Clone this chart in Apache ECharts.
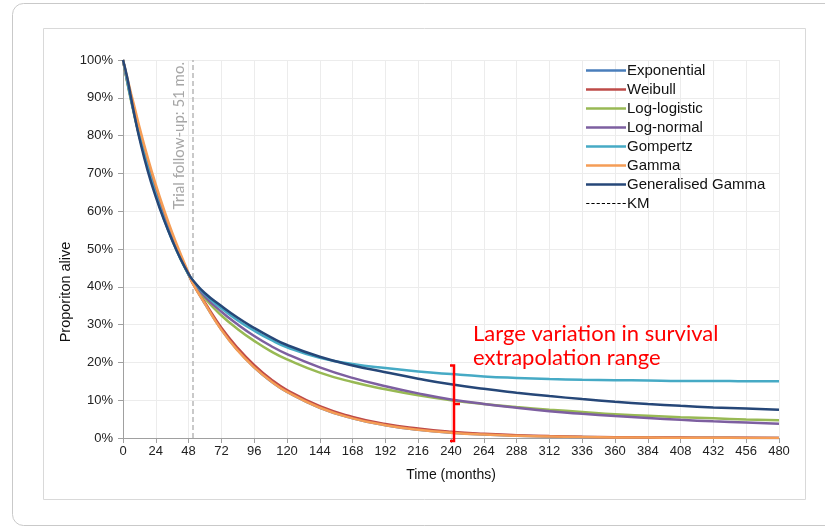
<!DOCTYPE html>
<html>
<head>
<meta charset="utf-8">
<script src="https://cdn.jsdelivr.net/npm/echarts@6/dist/echarts.min.js"></script>
<style>html,body{margin:0;padding:0;background:#fff}#c{width:825px;height:529px}</style>
</head>
<body>
<div id="c"></div>
<script>
// Time points (months)
const months = [0,3,6,9,12,18,24,30,36,42,48,51,60,72,84,96,108,120,144,168,192,216,240,264,288,312,336,360,384,408,432,456,480];
// Survival (%) per model
const exponential = [100,95,90,85.5,81,73,65.7,59.2,53.3,48,43.2,41,35.5,28.7,23.2,18.7,15.1,12.2,8.0,5.2,3.4,2.2,1.4,0.95,0.6,0.4,0.26,0.17,0.11,0.07,0.05,0.03,0.02];
const weibull = [100,94.5,89.5,85,80.7,72.8,65.7,59.3,53.5,48.2,43.4,41.0,35.8,29.2,23.8,19.3,15.6,12.7,8.4,5.6,3.7,2.5,1.65,1.1,0.75,0.5,0.34,0.23,0.16,0.11,0.07,0.05,0.03];
const logLogistic = [100,94.3,89,84.2,79.8,71.8,64.6,58.2,52.5,47.5,43.2,41.3,36.9,32.4,28.8,25.7,23.0,20.8,17.3,14.8,12.9,11.3,10.0,9.0,8.2,7.5,6.9,6.3,5.9,5.5,5.2,4.9,4.7];
const logNormal = [100,94.8,89.5,84.5,79.9,71.8,64.6,58.3,52.7,47.7,43.4,41.5,37.4,33.4,30.0,27.0,24.4,22.2,18.7,15.9,13.7,11.8,10.2,9.0,8.0,7.1,6.4,5.8,5.3,4.8,4.4,4.1,3.8];
const gompertz = [100,94.6,89.4,84.5,79.9,71.6,64.3,57.9,52.3,47.4,43.3,41.7,38.0,34.3,31.1,28.4,26.0,24.0,21.2,19.6,18.5,17.6,16.9,16.3,15.9,15.6,15.4,15.3,15.2,15.1,15.1,15.0,15.0];
const gamma = [100,95.5,91,86.7,82.3,74.3,67,60.4,54.3,48.8,43.6,40.9,35.5,28.6,23.1,18.7,15.1,12.2,8.0,5.2,3.4,2.2,1.4,0.9,0.6,0.4,0.25,0.16,0.1,0.07,0.04,0.03,0.02];
const genGamma = [100,95.5,89.8,84.3,79.3,70.8,63.8,57.7,52.3,47.5,43.4,41.8,38.3,34.9,31.8,29.1,26.7,24.6,21.5,19.2,17.4,15.7,14.2,13.0,12.0,11.1,10.3,9.6,9.0,8.5,8.1,7.8,7.5];
const km = []; // KM appears in the legend only
const seriesNames = ['Exponential','Weibull','Log-logistic','Log-normal','Gompertz','Gamma','Generalised Gamma','KM'];
const seriesData = [exponential, weibull, logLogistic, logNormal, gompertz, gamma, genGamma, km];
const seriesColors = ['#4a7ebb','#be4b48','#98b954','#7d5fa0','#46aac5','#f59d56','#264778','#000000'];
const followUp = 51;
const xTicks = {min:0, max:480, interval:24};
const yTicks = {min:0, max:100, interval:10};

const chart = echarts.init(document.getElementById('c'));
const series = seriesNames.map((name, i) => ({
  name: name,
  type: 'line',
  data: seriesData[i].map((v, j) => [months[j], v]),
  smooth: 0.5,
  symbol: 'none',
  color: seriesColors[i],
  lineStyle: {width: i === 7 ? 1.2 : 2.5, color: seriesColors[i], type: i === 7 ? [3, 2] : 'solid'},
  z: 3 + i,
  animation: false
}));
series.push({
  type: 'line', data: [], silent: true, animation: false,
  markLine: {
    symbol: 'none', silent: true, animation: false,
    lineStyle: {color: '#b8b8b8', type: [5, 3], width: 1.5},
    label: {show: false},
    data: [{xAxis: followUp}]
  },
  z: 2
});

const dashPath = 'path://M0,0M0,2.5M0,0.75h3.2v1h-3.2zM5.2,0.75h3.2v1h-3.2zM10.4,0.75h3.2v1h-3.2zM15.6,0.75h3.2v1h-3.2zM20.8,0.75h3.2v1h-3.2zM26,0.75h3.2v1h-3.2zM31.2,0.75h3.2v1h-3.2zM36.4,0.75h3.2v1h-3.2z';
const legendData = seriesNames.map((n, i) => ({name: n, icon: i === 7 ? dashPath : 'rect'}));

chart.setOption({
  animation: false,
  grid: {left: 123, right: 46, top: 60, bottom: 91},
  legend: {
    orient: 'vertical', left: 581, top: 56,
    itemWidth: 40, itemHeight: 2.5, itemGap: 0,
    textStyle: {fontFamily: 'Liberation Sans, Arial', fontSize: 15, color: '#111', padding: [0,0,0,-4], lineHeight: 19},
    data: legendData
  },
  xAxis: {
    type: 'value', min: xTicks.min, max: xTicks.max, interval: xTicks.interval,
    name: 'Time (months)', nameLocation: 'middle', nameGap: 30,
    nameTextStyle: {fontFamily: 'Liberation Sans, Arial', fontSize: 14, color: '#111'},
    axisLine: {lineStyle: {color: '#a0a0a0', width: 1}},
    axisTick: {show: true, length: 5, lineStyle: {color: '#a0a0a0'}},
    axisLabel: {fontFamily: 'Liberation Sans, Arial', fontSize: 13, color: '#222', margin: 7},
    splitLine: {show: true, lineStyle: {color: '#ececec', width: 1}}
  },
  yAxis: {
    type: 'value', min: yTicks.min, max: yTicks.max, interval: yTicks.interval,
    axisLine: {show: true, lineStyle: {color: '#a0a0a0', width: 1}},
    axisTick: {show: true, length: 5, lineStyle: {color: '#a0a0a0'}},
    axisLabel: {fontFamily: 'Liberation Sans, Arial', fontSize: 13, color: '#222', margin: 10, formatter: '{value}%'},
    splitLine: {show: true, lineStyle: {color: '#ececec', width: 1}}
  },
  series: series
});

// Annotations positioned through the chart's scales
const p = (x, y) => chart.convertToPixel({gridIndex: 0}, [x, y]);
const lineTop = p(followUp, 100);
const brTop = p(240, 19.2);
const brBot = p(240, -0.8);
const brMid = p(240, 9.0);
const bx = brTop[0] + 3;
chart.setOption({
  graphic: [
    {type: 'rect', shape: {x: 12.5, y: 3.5, width: 830, height: 522, r: 11}, style: {fill: 'none', stroke: '#c9c9c9', lineWidth: 1}, silent: true, z: -10},
    {type: 'rect', shape: {x: 43.5, y: 28.5, width: 762, height: 471}, style: {fill: 'none', stroke: '#d9d9d9', lineWidth: 1}, silent: true, z: -10},
    {type: 'text', x: 66, y: 292, rotation: Math.PI / 2, style: {text: 'Proporiton alive', fontFamily: 'Liberation Sans, Arial', fontSize: 14.5, fill: '#111', align: 'center', verticalAlign: 'middle'}},
    {type: 'text', x: lineTop[0] - 14, y: lineTop[1] + 2, rotation: Math.PI / 2, style: {text: 'Trial follow-up: 51 mo.', fontFamily: 'Lato', fontSize: 15, fill: '#a6a6a6', align: 'right', verticalAlign: 'middle'}},
    {type: 'text', x: 473, y: 322, style: {text: 'Large variation in survival\nextrapolation range', fontFamily: 'Lato', fontSize: 22, lineHeight: 24, fill: '#ff0000', align: 'left', verticalAlign: 'top'}},
    {type: 'polyline', shape: {points: [[bx - 4, brTop[1]], [bx, brTop[1]], [bx, brBot[1]], [bx - 4, brBot[1]]]}, style: {stroke: '#ff0000', lineWidth: 2.5, fill: 'none'}, z: 20},
    {type: 'line', shape: {x1: bx, y1: brMid[1], x2: bx + 6, y2: brMid[1]}, style: {stroke: '#ff0000', lineWidth: 2.5}, z: 20}
  ]
});
</script>
</body>
</html>
